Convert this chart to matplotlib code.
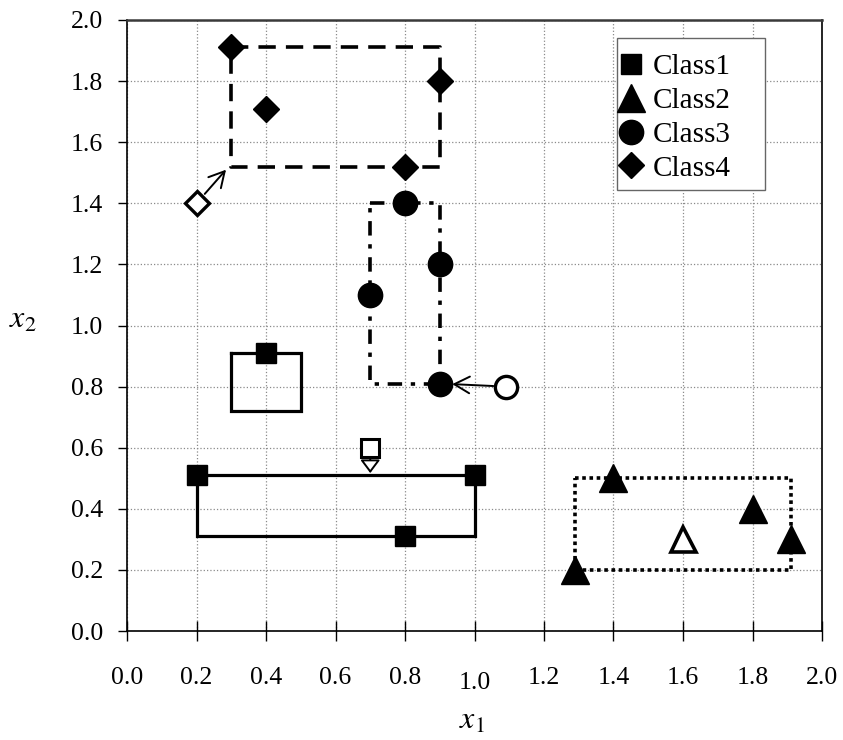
import matplotlib
matplotlib.use("Agg")
import matplotlib.pyplot as plt
from matplotlib.patches import Rectangle
from matplotlib.transforms import ScaledTranslation

# ---- data ----
class1_x = [0.4, 0.2, 1.0, 0.8]
class1_y = [0.91, 0.51, 0.51, 0.31]
class2_x = [1.29, 1.4, 1.8, 1.91]
class2_y = [0.2, 0.5, 0.4, 0.3]
class3_x = [0.8, 0.9, 0.7, 0.9]
class3_y = [1.4, 1.2, 1.1, 0.81]
class4_x = [0.3, 0.4, 0.9, 0.8]
class4_y = [1.91, 1.71, 1.8, 1.52]

# new (unlabelled) points: square, triangle, circle, diamond
new1 = (0.7, 0.6)
new2 = (1.6, 0.3)
new3 = (1.09, 0.8)
new4 = (0.2, 1.4)

# hyper-boxes (xmin, xmax, ymin, ymax)
class1_boxes = [(0.3, 0.5, 0.72, 0.91), (0.2, 1.0, 0.31, 0.51)]
class2_boxes = [(1.29, 1.91, 0.2, 0.5)]
class3_boxes = [(0.7, 0.9, 0.81, 1.4)]
class4_boxes = [(0.3, 0.9, 1.52, 1.91)]

# arrow targets
arrow1_to = (0.7, 0.51)
arrow3_to = (0.9, 0.81)
arrow4_to = (0.285, 1.51)

class_labels = ["Class1", "Class2", "Class3", "Class4"]
xticks = [0.0, 0.2, 0.4, 0.6, 0.8, 1.0, 1.2, 1.4, 1.6, 1.8, 2.0]
yticks = [0.0, 0.2, 0.4, 0.6, 0.8, 1.0, 1.2, 1.4, 1.6, 1.8, 2.0]

plt.rcParams["font.family"] = ["Liberation Serif", "DejaVu Serif"]
plt.rcParams["mathtext.fontset"] = "stix"

W, H = 843, 740
fig = plt.figure(figsize=(W / 100, H / 100), dpi=100)
ax = fig.add_axes([127 / W, 1 - 631 / H, (822 - 127) / W, (631 - 20) / H])
ax.set_xlim(0, 2.0)
ax.set_ylim(0, 2.0)


def draw_box(b, **kw):
    x0, x1, y0, y1 = b
    ax.plot([x0, x1, x1, x0, x0], [y1, y1, y0, y0, y1], color="black",
            zorder=3, solid_joinstyle="miter", **kw)


for b in class1_boxes:
    draw_box(b, lw=2.3, ls="-")
for b in class2_boxes:
    draw_box(b, lw=2.6, dashes=(1.0, 1.0), dash_capstyle="butt")
for b in class3_boxes:
    draw_box(b, lw=2.6, dashes=(4.0, 2.4, 1.2, 2.4), dash_capstyle="butt")
for b in class4_boxes:
    draw_box(b, lw=2.6, dashes=(4.8, 2.8), dash_capstyle="butt")

# arrows
arr_kw = dict(arrowstyle="->,head_length=0.55,head_width=0.3", color="black",
              lw=1.4, mutation_scale=20)
ax.annotate("", xy=arrow4_to, xytext=new4,
            arrowprops=dict(shrinkA=9, shrinkB=0, **arr_kw), zorder=4)
ax.annotate("", xy=arrow3_to, xytext=new3,
            arrowprops=dict(shrinkA=9, shrinkB=9, **arr_kw), zorder=4)
ax.annotate("", xy=arrow1_to, xytext=new1,
            arrowprops=dict(arrowstyle="-|>,head_length=0.4,head_width=0.3",
                            fc="white", ec="black", lw=1.4, mutation_scale=20,
                            shrinkA=7, shrinkB=1.5), zorder=4)

# class markers
h1, = ax.plot(class1_x, class1_y, ls="none", marker="s", ms=15, color="black",
              mec="black", zorder=5, label=class_labels[0])
h2, = ax.plot(class2_x, class2_y, ls="none", marker="^", ms=20, color="black",
              mec="black", zorder=5, label=class_labels[1])
h3, = ax.plot(class3_x, class3_y, ls="none", marker="o", ms=17.5, color="black",
              mec="black", zorder=5, label=class_labels[2])
h4, = ax.plot(class4_x, class4_y, ls="none", marker="D", ms=13.5, color="black",
              mec="black", zorder=5, label=class_labels[3])

# open markers
ax.plot([new1[0]], [new1[1]], ls="none", marker="s", ms=13, mfc="white",
        mec="black", mew=2.2, zorder=6)
ax.plot([new2[0]], [new2[1]], ls="none", marker="^", ms=18, mfc="white",
        mec="black", mew=2.6, zorder=6)
ax.plot([new3[0]], [new3[1]], ls="none", marker="o", ms=16, mfc="white",
        mec="black", mew=2.4, zorder=6)
ax.plot([new4[0]], [new4[1]], ls="none", marker="D", ms=12, mfc="white",
        mec="black", mew=2.4, zorder=6)

# grid & ticks
ax.set_xticks(xticks)
ax.set_yticks(yticks)
ax.set_xticklabels([f"{v:.1f}" for v in xticks])
ax.set_yticklabels([f"{v:.1f}" for v in yticks])
ax.grid(True, ls=":", color="#8a8a8a", lw=0.9)
ax.set_axisbelow(True)
ax.tick_params(axis="x", direction="inout", length=14.4, width=1,
               pad=18.5, labelsize=18.5)
ax.tick_params(axis="y", direction="out", length=6.5, width=1,
               pad=10.5, labelsize=18.5)

# "1.0" label sits slightly lower
for lab in ax.get_xticklabels():
    if lab.get_text() == "1.0":
        lab.set_transform(lab.get_transform() +
                          ScaledTranslation(0, -4 / 72, fig.dpi_scale_trans))

for s in ["left", "bottom", "right"]:
    ax.spines[s].set_color("black")
    ax.spines[s].set_linewidth(1.2)
ax.spines["top"].set_color("#3a3a3a")
ax.spines["top"].set_linewidth(1.8)

# axis labels
fig.text(23 / W, 1 - 328 / H, r"$x_2$", fontsize=23, ha="center",
         va="baseline")
fig.text(472 / W, 1 - 729 / H, r"$x_1$", fontsize=23, ha="center",
         va="baseline")

# legend: frame drawn as a figure patch, entries by the legend itself
frame = Rectangle((617 / W, 1 - 190 / H), (765 - 617) / W, (190 - 38) / H,
                  transform=fig.transFigure, facecolor="white",
                  edgecolor="#666666", lw=1.0, zorder=9)
fig.patches.append(frame)
leg = fig.legend(handles=[h1, h2, h3, h4], loc="upper left",
                 bbox_to_anchor=(618 / W, 1 - 54 / H),
                 bbox_transform=fig.transFigure, fontsize=21, frameon=False,
                 borderpad=0, labelspacing=0.25, handletextpad=0.3,
                 handlelength=0.9, borderaxespad=0, numpoints=1)
leg.set_zorder(10)

fig.savefig("out.png", dpi=100)
